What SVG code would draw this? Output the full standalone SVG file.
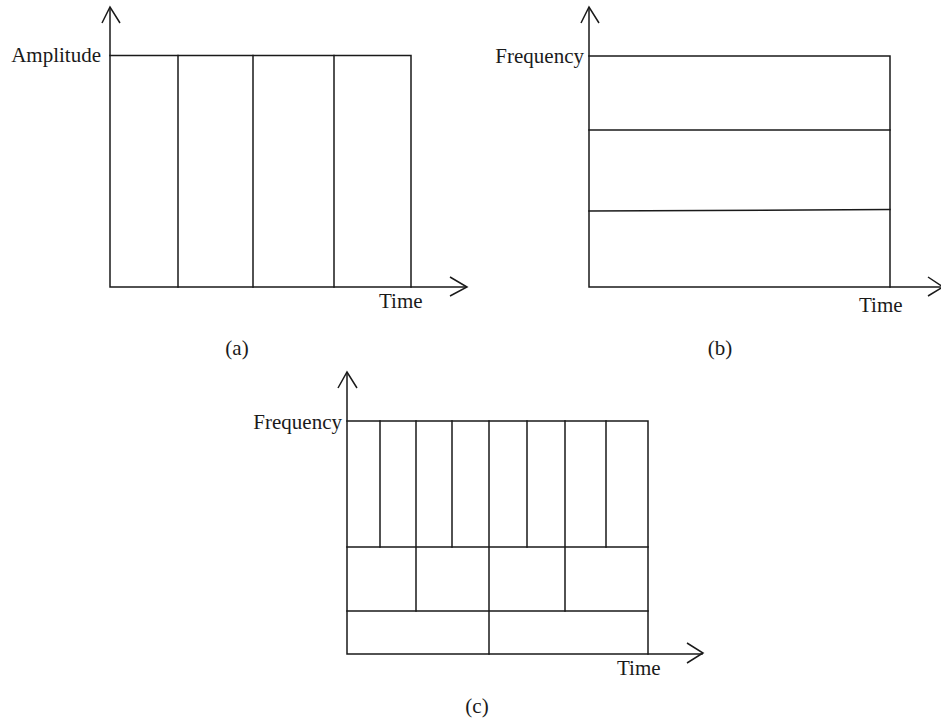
<svg xmlns="http://www.w3.org/2000/svg" width="941" height="722" viewBox="0 0 941 722">
<style>
.ln{stroke:#1a1a1a;stroke-width:1.5;fill:none;stroke-linecap:square}
.ar{stroke:#1a1a1a;stroke-width:1.5;fill:none}
text{font-family:"Liberation Serif","Times New Roman",serif;font-size:21px;fill:#1a1a1a}
.e{text-anchor:end}
.m{text-anchor:middle}
</style>
<rect width="941" height="722" fill="#fff"/>
<g id="panel-a">
<g id="a-axes">
<path class="ln" d="M110,8 V287 H466"/>
<path class="ar" d="M102,23 L110,7 L120,23"/>
<path class="ar" d="M450,277 L467,287 L450,296"/>
</g>
<g id="a-grid">
<path class="ln" d="M110,55.5 H411 V287"/>
<path class="ln" d="M178,55.5 V287 M253,55.5 V287 M334,55.5 V287"/>
</g>
<text class="e" x="101" y="62">Amplitude</text>
<text x="379" y="308">Time</text>
<text class="m" x="237" y="355">(a)</text>
</g>
<g id="panel-b">
<g id="b-axes">
<path class="ln" d="M589,8 V287 H940"/>
<path class="ar" d="M581,23 L589,7 L599,23"/>
<path class="ar" d="M928,277 L943,287 L928,296"/>
</g>
<g id="b-grid">
<path class="ln" d="M589,56 H890 V287"/>
<path class="ln" d="M589,130 H890 M589,211 L890,209.5"/>
</g>
<text class="e" x="584" y="63">Frequency</text>
<text x="859" y="312">Time</text>
<text class="m" x="720" y="355">(b)</text>
</g>
<g id="panel-c">
<g id="c-axes">
<path class="ln" d="M347,373 V654 H702"/>
<path class="ar" d="M338,388 L347,372 L357,388"/>
<path class="ar" d="M687,643 L703,653 L687,663"/>
</g>
<g id="c-grid">
<path class="ln" d="M347,421 H648 V654"/>
<path class="ln" d="M347,547 H648 M347,611 H648"/>
<path class="ln" d="M380,421 V547 M416,421 V611 M452,421 V547 M489,421 V654 M527,421 V547 M565,421 V611 M606,421 V547"/>
</g>
<text class="e" x="342" y="429">Frequency</text>
<text x="617" y="675">Time</text>
<text class="m" x="477" y="713">(c)</text>
</g>
</svg>
